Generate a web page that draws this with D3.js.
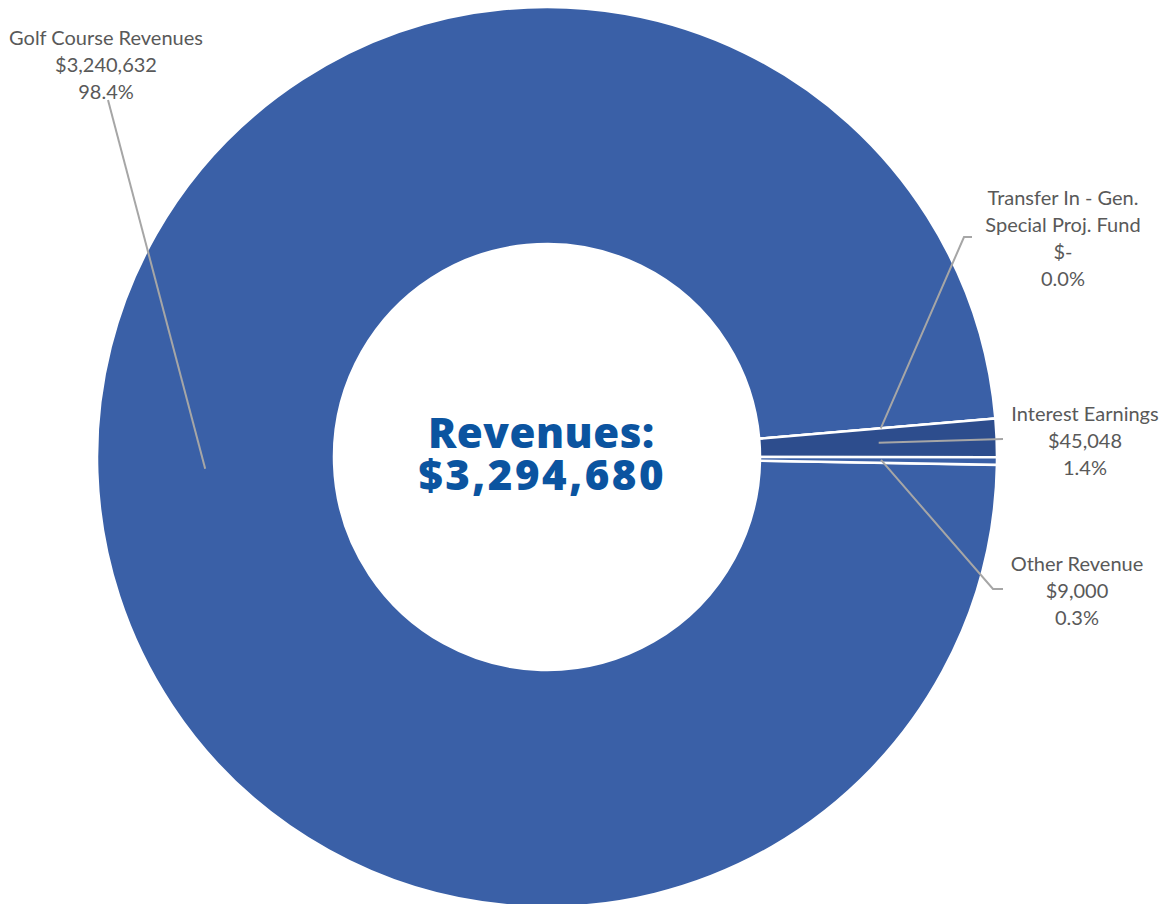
<!DOCTYPE html>
<html>
<head>
<meta charset="utf-8">
<script src="https://cdn.jsdelivr.net/npm/d3@7"></script>
<style>
  html, body { margin: 0; padding: 0; background: #ffffff; }
  svg { display: block; }
</style>
</head>
<body>
<svg id="chart" width="1172" height="904"></svg>
<script>
// Revenue sources (clockwise order of the ring)
const categories = ["Golf Course Revenues", "Transfer In - Gen. Special Proj. Fund", "Interest Earnings", "Other Revenue"];
const values = [3240632, 0, 45048, 9000];
const amountLabels = ["$3,240,632", "$-", "$45,048", "$9,000"];
const percentLabels = ["98.4%", "0.0%", "1.4%", "0.3%"];
const labelLines = [
  ["Golf Course Revenues"],
  ["Transfer In - Gen.", "Special Proj. Fund"],
  ["Interest Earnings"],
  ["Other Revenue"]
];
const colors = ["#3a60a7", "#3a60a7", "#2d4d8d", "#3a60a7"];
const totalLabel = ["Revenues:", "$3,294,680"];

const svg = d3.select("#chart");
const cx = 547, cy = 457, outerR = 450, innerR = 213;
const firstAngle = 91 * Math.PI / 180;

const pie = d3.pie().sort(null).value(d => d)
  .startAngle(firstAngle).endAngle(firstAngle + 2 * Math.PI);
const arcs = pie(values);
const arc = d3.arc().innerRadius(innerR).outerRadius(outerR);

const g = svg.append("g").attr("transform", `translate(${cx},${cy})`);

g.selectAll("path.slice")
  .data(arcs)
  .join("path")
  .attr("class", "slice")
  .attr("d", arc)
  .attr("fill", (d, i) => colors[i])
  .attr("stroke", "#ffffff")
  .attr("stroke-width", 2.5)
  .attr("stroke-linejoin", "miter");

// Label placement: anchor radius inside the slice, then leader path to the text block
const labelSpec = [
  { anchorR: 342, x: 106, y: 37, path: p => [p, [108, 100]] },
  { anchorR: 335, x: 1063, y: 197, path: p => [p, [964, 237], [972, 237]] },
  { anchorR: 332, x: 1085, y: 413, path: p => [p, [1003, 439]] },
  { anchorR: 334, x: 1077, y: 563, path: p => [p, [993, 589], [1003, 589]] }
];

const lineH = 27;
arcs.forEach((d, i) => {
  const spec = labelSpec[i];
  const mid = (d.startAngle + d.endAngle) / 2;
  const ax = cx + spec.anchorR * Math.sin(mid);
  const ay = cy - spec.anchorR * Math.cos(mid);
  svg.append("path")
    .attr("d", d3.line()(spec.path([ax, ay])))
    .attr("fill", "none")
    .attr("stroke", "#a6a6a6")
    .attr("stroke-width", 2);

  const rows = labelLines[i].concat([amountLabels[i], percentLabels[i]]);
  const t = svg.append("text")
    .attr("text-anchor", "middle")
    .attr("font-family", "Lato, 'Open Sans', sans-serif")
    .attr("font-size", 20)
    .attr("fill", "#595959");
  rows.forEach((r, k) => {
    t.append("tspan")
      .attr("x", spec.x)
      .attr("y", spec.y + k * lineH)
      .attr("dominant-baseline", "central")
      .text(r);
  });
});

// Total in the hole of the ring
const centerSpacing = [0.5, 2.5];
totalLabel.forEach((s, k) => {
  svg.append("text")
    .attr("text-anchor", "middle")
    .attr("font-family", "'Open Sans', Roboto, sans-serif")
    .attr("font-weight", 800)
    .attr("font-size", 42)
    .attr("letter-spacing", centerSpacing[k])
    .attr("fill", "#0b54a0")
    .attr("x", 541 + centerSpacing[k] / 2)
    .attr("y", 431 + k * 42)
    .attr("dominant-baseline", "central")
    .text(s);
});
</script>
</body>
</html>
